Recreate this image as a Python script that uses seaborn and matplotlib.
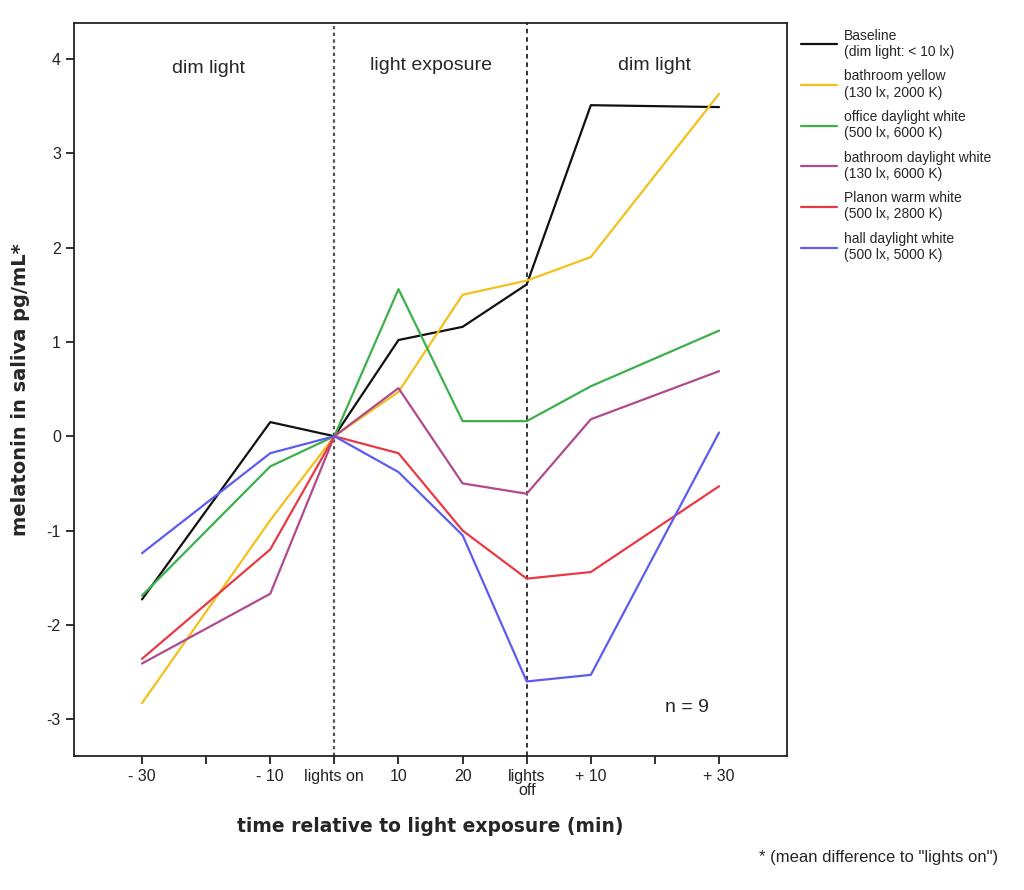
import numpy as np
import pandas as pd
import matplotlib
matplotlib.use("Agg")
import matplotlib.pyplot as plt
import seaborn as sns

sns.set_style("ticks")
plt.rcParams['font.family'] = ['Liberation Sans', 'DejaVu Sans']

# x positions: -30, (-20), -10, lights on, 10, 20, lights off, +10, (+20), +30
tick_labels = ["- 30", "", "- 10", "lights on", "10", "20", "lights\noff", "+ 10", "", "+ 30"]
time_idx = [0, 2, 3, 4, 5, 6, 7, 9]  # positions where values were measured

baseline = [-1.73, 0.15, 0.0, 1.02, 1.16, 1.61, 3.51, 3.49]
bath_yellow = [-2.83, -0.89, 0.0, 0.47, 1.50, 1.65, 1.90, 3.63]
office_white = [-1.69, -0.32, 0.0, 1.56, 0.16, 0.16, 0.53, 1.12]
bath_white = [-2.41, -1.67, 0.0, 0.51, -0.50, -0.61, 0.18, 0.69]
planon_warm = [-2.36, -1.20, 0.0, -0.18, -1.00, -1.51, -1.44, -0.53]
hall_white = [-1.24, -0.18, 0.0, -0.38, -1.05, -2.60, -2.53, 0.04]

series_names = ["Baseline\n(dim light: < 10 lx)",
                "bathroom yellow\n(130 lx, 2000 K)",
                "office daylight white\n(500 lx, 6000 K)",
                "bathroom daylight white\n(130 lx, 6000 K)",
                "Planon warm white\n(500 lx, 2800 K)",
                "hall daylight white\n(500 lx, 5000 K)"]
series_vals = [baseline, bath_yellow, office_white, bath_white, planon_warm, hall_white]
colors = ["#111111", "#F2C21A", "#3DB04C", "#B04A8E", "#E83A44", "#5C5CF0"]

rows = []
for name, vals in zip(series_names, series_vals):
    for t, v in zip(time_idx, vals):
        rows.append({"time": t, "value": v, "condition": name})
df = pd.DataFrame(rows)

fig = plt.figure(figsize=(10.24, 8.9), dpi=100)
ax = fig.add_axes([0.0723, 0.1506, 0.6963, 0.8234])

sns.lineplot(data=df, x="time", y="value", hue="condition", hue_order=series_names,
             palette=colors, linewidth=1.6, ax=ax, sort=False, estimator=None)

ax.axvline(3, color="#555555", linestyle=(0, (1.5, 1.5)), linewidth=1.6, zorder=0)
ax.axvline(6, color="black", linestyle=(0, (3, 2.5)), linewidth=1.1, zorder=0)

ax.set_xlim(-1.06, 10.06)
ax.set_ylim(-3.39, 4.38)
ax.set_xticks(range(10))
ax.set_xticklabels(tick_labels, fontsize=11.5, linespacing=0.9)
ax.set_yticks([-3, -2, -1, 0, 1, 2, 3, 4])
ax.set_yticklabels(["-3", "-2", "-1", "0", "1", "2", "3", "4"], fontsize=11.5)
ax.tick_params(direction="out", length=6, width=1.3, colors="#222222")
for s in ax.spines.values():
    s.set_linewidth(1.3)
    s.set_color("#222222")

ax.set_xlabel("time relative to light exposure (min)", fontsize=13.5, fontweight="bold",
              family="DejaVu Sans", labelpad=14)
ax.set_ylabel("melatonin in saliva pg/mL*", fontsize=14, fontweight="bold",
              family="DejaVu Sans", labelpad=12)

ax.text(1.03, 3.9, "dim light", fontsize=14, ha="center", va="center")
ax.text(4.5, 3.93, "light exposure", fontsize=14, ha="center", va="center")
ax.text(8.0, 3.93, "dim light", fontsize=14, ha="center", va="center")
ax.text(8.5, -2.88, "n = 9", fontsize=14, ha="center", va="center")

ax.legend(loc="upper left", bbox_to_anchor=(1.012, 1.0), frameon=False, fontsize=10,
          handlelength=2.6, handletextpad=0.5, labelspacing=0.75, borderaxespad=0)

fig.text(0.975, 0.037, '* (mean difference to "lights on")', fontsize=12, ha="right", va="center")

fig.savefig("out.png", dpi=100)
